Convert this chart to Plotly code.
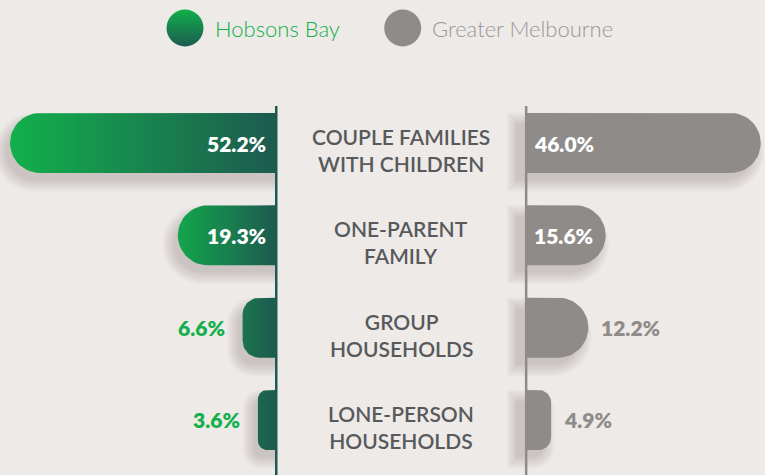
import numpy as np
import plotly.graph_objects as go

# ---- data ----
categories = ["COUPLE FAMILIES<br>WITH CHILDREN", "ONE-PARENT<br>FAMILY",
              "GROUP<br>HOUSEHOLDS", "LONE-PERSON<br>HOUSEHOLDS"]
hobsons_bay = [52.2, 19.3, 6.6, 3.6]
greater_melbourne = [46.0, 15.6, 12.2, 4.9]
series_names = ["Hobsons Bay", "Greater Melbourne"]

# ---- style / geometry ----
W, H = 765, 475
BG = "#edeae7"
GREEN = "#12b04b"
DARK = "#1d5a50"
GREY = "#8f8b89"
TEXT = "#58595b"
FONT = "Lato"

PX = 5.1            # pixels per percentage point
ROW = 92.33         # pixels between rows
GAP = 24.5          # half width of the centre column (in % units)
CENTER_PX = 401.2
FIRST_ROW_PX = 143
HALF = 30           # half bar thickness in px
INSIDE_MIN = 15     # labels go inside the bar above this value

x_range = [-CENTER_PX / PX, (W - CENTER_PX) / PX]
y_range = [(H - FIRST_ROW_PX) / ROW, -FIRST_ROW_PX / ROW]


def px_x(p):
    return (p - CENTER_PX) / PX


def px_y(p):
    return (p - FIRST_ROW_PX) / ROW


def rounded(base, tip, half, r, n=14):
    r = max(min(r, half, (tip - base)), 0)
    pts = [(base, -half), (tip - r, -half)]
    for a in np.linspace(-np.pi / 2, 0, n):
        pts.append((tip - r + r * np.cos(a), -half + r + r * np.sin(a)))
    for a in np.linspace(0, np.pi / 2, n):
        pts.append((tip - r + r * np.cos(a), half - r + r * np.sin(a)))
    pts.append((base, half))
    pts.append((base, -half))
    return pts


def to_data(pts, side, row, dy=0.0):
    xs = [side * (GAP + px / PX) for px, py in pts]
    ys = [row + (py + dy) / ROW for px, py in pts]
    return xs, ys


fig = go.Figure()

# soft drop shadows (light from the upper right)
for side, values in [(-1, hobsons_bay), (1, greater_melbourne)]:
    shift = 6 if side == -1 else -6
    for row, v in enumerate(values):
        L = v * PX
        r = min(HALF, L / 2)
        for k in range(1, 7):
            e = 2.2 * k - 4
            base = shift - abs(e) - 4
            if side == -1:
                base = max(0, base)
            xs, ys = to_data(rounded(base, L + shift + e, HALF + e, r + e), side, row, dy=9)
            fig.add_trace(go.Scatter(x=xs, y=ys, mode="lines", fill="toself",
                                     line=dict(width=0), fillcolor="rgba(50,40,35,0.032)",
                                     hoverinfo="skip", showlegend=False))

# bars
for row, v in enumerate(hobsons_bay):
    L = v * PX
    xs, ys = to_data(rounded(0, L, HALF, min(HALF, L / 2)), -1, row)
    fig.add_trace(go.Scatter(
        x=xs, y=ys, mode="lines", fill="toself", line=dict(width=0),
        fillgradient=dict(type="horizontal", colorscale=[[0, GREEN], [1, DARK]],
                          start=-GAP - max(v, 22), stop=-GAP),
        hoverinfo="skip", showlegend=False))

for row, v in enumerate(greater_melbourne):
    L = v * PX
    xs, ys = to_data(rounded(0, L, HALF, min(HALF, L / 2)), 1, row)
    fig.add_trace(go.Scatter(
        x=xs, y=ys, mode="lines", fill="toself", line=dict(width=0),
        fillcolor=GREY, hoverinfo="skip", showlegend=False))

# legend markers
fig.add_trace(go.Scatter(x=[px_x(185)], y=[px_y(28)], mode="markers",
                         marker=dict(size=37, color=GREEN,
                                     gradient=dict(type="vertical", color=DARK)),
                         hoverinfo="skip", showlegend=False))
fig.add_trace(go.Scatter(x=[px_x(402.7)], y=[px_y(28)], mode="markers",
                         marker=dict(size=37, color=GREY),
                         hoverinfo="skip", showlegend=False))

annotations = [
    dict(x=213 / W, y=1 - 28 / H, xref="paper", yref="paper", xanchor="left",
         yanchor="middle", text=series_names[0], showarrow=False,
         font=dict(family=FONT, size=22, color=GREEN, weight=300)),
    dict(x=430 / W, y=1 - 28 / H, xref="paper", yref="paper", xanchor="left",
         yanchor="middle", text=series_names[1], showarrow=False,
         font=dict(family=FONT, size=22, color="#9a9795", weight=300)),
]

for row, cat in enumerate(categories):
    annotations.append(dict(x=0, y=row, text=cat, showarrow=False, yshift=-7,
                            font=dict(family=FONT, size=21, color=TEXT, weight=600)))

for row, v in enumerate(hobsons_bay):
    inside = v >= INSIDE_MIN
    annotations.append(dict(
        x=-GAP if inside else -GAP - v, y=row, text=f"{v:.1f}%", showarrow=False,
        xanchor="right", xshift=-8 if inside else -16,
        font=dict(family=FONT, size=21, weight=800, color="white" if inside else GREEN)))

for row, v in enumerate(greater_melbourne):
    inside = v >= INSIDE_MIN
    annotations.append(dict(
        x=GAP if inside else GAP + v, y=row, text=f"{v:.1f}%", showarrow=False,
        xanchor="left", xshift=6 if inside else 11,
        font=dict(family=FONT, size=21, weight=800, color="white" if inside else GREY)))

shapes = [
    dict(type="line", xref="x", yref="paper", x0=-GAP, x1=-GAP, y0=0, y1=1 - 106 / H,
         line=dict(color=DARK, width=2.5), layer="above"),
    dict(type="line", xref="x", yref="paper", x0=GAP, x1=GAP, y0=0, y1=1 - 106 / H,
         line=dict(color=GREY, width=2.5), layer="above"),
]

fig.update_layout(
    width=W, height=H,
    margin=dict(l=0, r=0, t=0, b=0),
    paper_bgcolor=BG, plot_bgcolor=BG,
    xaxis=dict(range=x_range, visible=False, fixedrange=True),
    yaxis=dict(range=y_range, visible=False, fixedrange=True),
    annotations=annotations,
    shapes=shapes,
    showlegend=False,
    hovermode=False,
)

fig.write_html("out.html", config={"displayModeBar": False},
               post_script="document.body.style.margin='0';"
                           "document.body.style.background='" + BG + "';")
